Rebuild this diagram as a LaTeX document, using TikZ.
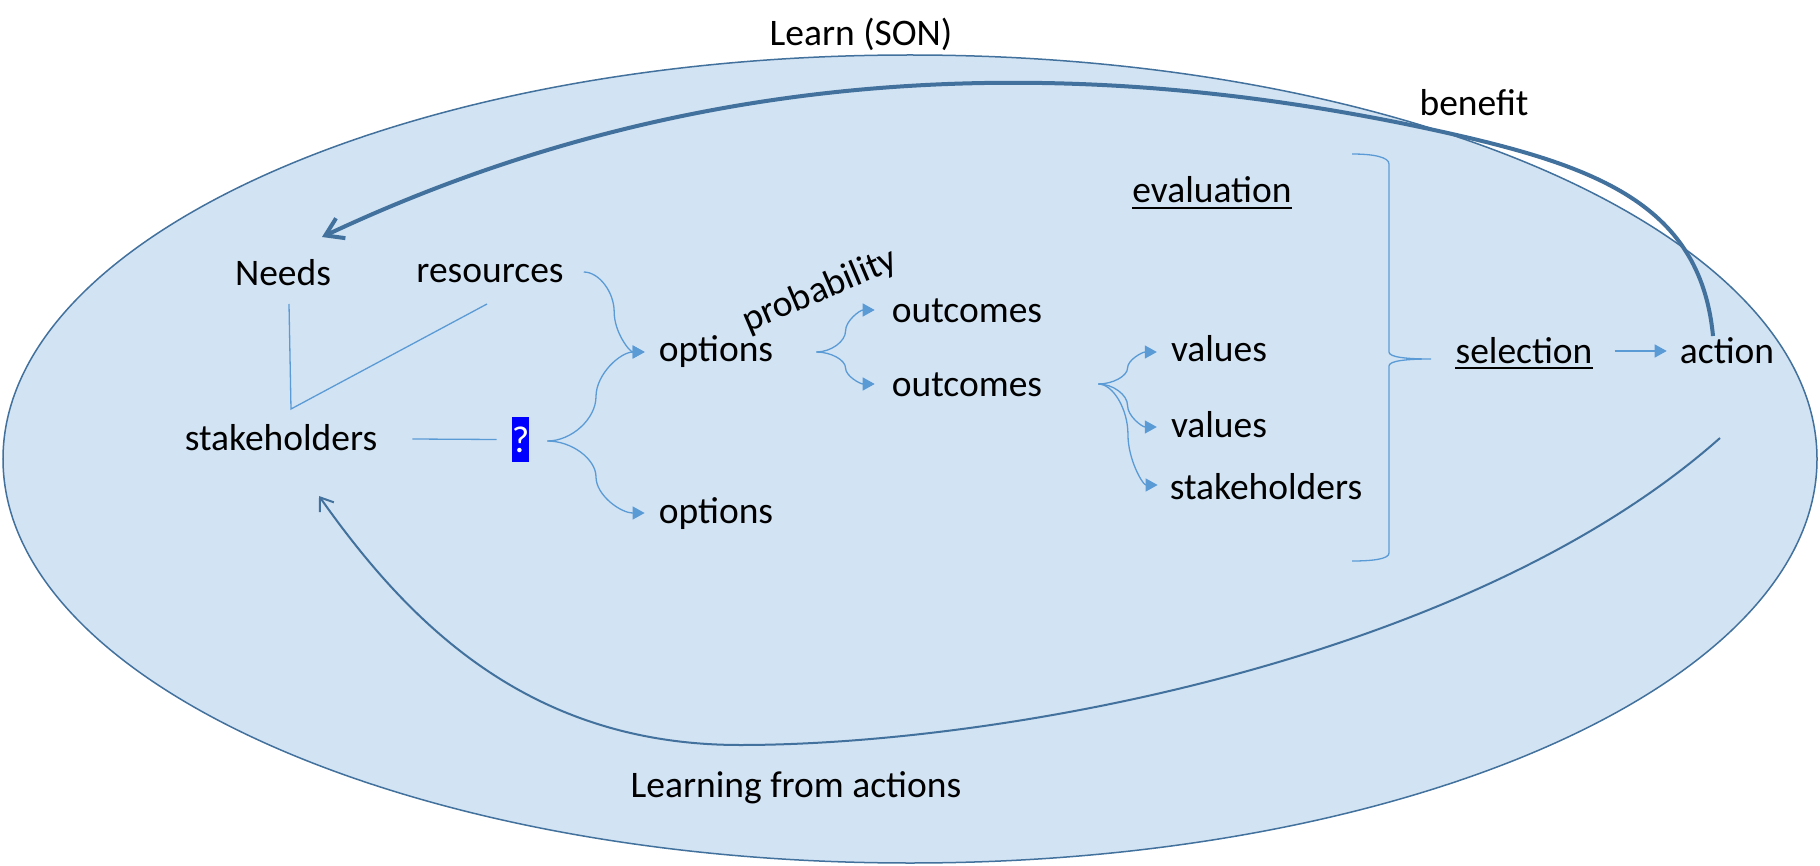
\documentclass[tikz,border=0pt]{standalone}
\usepackage{fontspec}
\setmainfont{Carlito}
\usetikzlibrary{arrows.meta,calc}
\definecolor{ellfill}{RGB}{210,227,243}
\definecolor{ellline}{RGB}{65,113,156}
\definecolor{thinblue}{RGB}{91,155,213}
\definecolor{qblue}{RGB}{0,0,255}
\begin{document}
\begin{tikzpicture}[x=1pt,y=-1pt,
  lbl/.style={inner sep=0pt, anchor=base, font=\fontsize{37.5}{44}\selectfont},
  qbox/.style={fill=qblue, text=white, inner sep=0pt, minimum width=17pt, minimum height=45pt, font=\fontsize{37.5}{44}\selectfont},
  thinline/.style={draw=thinblue, line width=1.3pt},
  thinarrow/.style={thinline, -{Triangle[length=12pt,width=13pt]}},
  thickarrow/.style={draw=ellline, line width=4pt, -{Straight Barb[length=17pt,width=22pt]}},
  looparrow/.style={draw=ellline, line width=2pt, -{Straight Barb[length=12pt,width=17pt]}},
  ulineline/.style={line width=2.5pt, black},
  oconn/.style={to path={let \p1=(\tikztostart), \p2=(\tikztotarget) in
    .. controls ({0.75*\x1+0.25*\x2},\y1) and ({0.5*\x1+0.5*\x2},{0.75*\y1+0.25*\y2})
    .. ({0.5*\x1+0.5*\x2},{0.5*\y1+0.5*\y2})
    .. controls ({0.5*\x1+0.5*\x2},{0.25*\y1+0.75*\y2}) and ({0.25*\x1+0.75*\x2},\y2)
    .. (\p2) \tikztonodes}}
]
\useasboundingbox (0,0) rectangle (1820,866);
\fill[white] (0,0) rectangle (1820,866);
\filldraw[fill=ellfill, draw=ellline, line width=1.5pt] (910,459) ellipse [x radius=907, y radius=404];

% texts
\node[lbl] (learn) at (861,46) {Learn (SON)};
\node[lbl] (benefit) at (1474,116) {benefit};
\node[lbl] (eval) at (1212,203) {evaluation};
\node[lbl] (needs) at (283,286) {Needs};
\node[lbl] (res) at (490,283) {resources};
\node[lbl, anchor=center, rotate=23] (prob) at (820,291) {probability};
\node[lbl] (out1) at (967,323) {outcomes};
\node[lbl] (opt1) at (716,362) {options};
\node[lbl] (val1) at (1219,362) {values};
\node[lbl] (sel) at (1524,363) {selection};
\node[lbl] (act) at (1727,363) {action};
\node[lbl] (out2) at (967,396) {outcomes};
\node[lbl] (stakeL) at (281,450) {stakeholders};
\node[lbl] (val2) at (1219,437) {values};
\node[lbl] (stakeR) at (1266,499) {stakeholders};
\node[lbl] (opt2) at (716,523) {options};
\node[lbl] (learnact) at (796,797) {Learning from actions};
\node[qbox] (q) at (520.5,439.5) {?};

% underlines
\draw[ulineline] ($(eval.base west)+(0,5)$) -- ($(eval.base east)+(0,5)$);
\draw[ulineline] ($(sel.base west)+(0,5)$) -- ($(sel.base east)+(0,5)$);

% needs / stakeholders / resources lines
\coordinate (nv1) at ($(needs.base)+(6,18)$);
\coordinate (nv2) at ($(stakeL.base)+(10,-41)$);
\coordinate (nv3) at ($(res.base)+(-3,21)$);
\draw[thinline] (nv1) -- (nv2) -- (nv3);

\coordinate (sq1) at ($(stakeL.base east)+(35,-11)$);
\coordinate (sq2) at ($(q.west)+(-15,0)$);
\draw[thinline] (sq1) -- (sq2);

% into options
\coordinate (qo) at ($(q.east)+(18,1.5)$);
\coordinate (ro) at ($(res.base east)+(20,-11)$);
\coordinate (o1i) at ($(opt1.base west)+(-14,-10)$);
\coordinate (o2i) at ($(opt2.base west)+(-14,-10)$);
\draw[thinarrow] (ro) to[oconn] (o1i);
\draw[thinarrow] (qo) to[oconn] (o1i);
\draw[thinarrow] (qo) to[oconn] (o2i);

% options -> outcomes
\coordinate (o1o) at ($(opt1.base east)+(43,-10)$);
\coordinate (u1i) at ($(out1.base west)+(-17,-13)$);
\coordinate (u2i) at ($(out2.base west)+(-17,-12)$);
\draw[thinarrow] (o1o) to[oconn] (u1i);
\draw[thinarrow] (o1o) to[oconn] (u2i);

% outcomes -> values / stakeholders
\coordinate (u2o) at ($(out2.base east)+(56,-12)$);
\coordinate (v1i) at ($(val1.base west)+(-14,-10)$);
\coordinate (v2i) at ($(val2.base west)+(-14,-10)$);
\coordinate (s2i) at ($(stakeR.base west)+(-12,-14)$);
\draw[thinarrow] (u2o) to[oconn] (v1i);
\draw[thinarrow] (u2o) to[oconn] (v2i);
\draw[thinarrow] (u2o) to[oconn] (s2i);

% brace
\draw[thinline] (1352,154) .. controls (1373,154) and (1389,157) .. (1389,164)
  -- (1389,352) .. controls (1389,357) and (1405,359) .. (1431,359)
  .. controls (1405,359) and (1389,361) .. (1389,366)
  -- (1389,553) .. controls (1389,559) and (1373,561) .. (1352,561);

% selection -> action
\coordinate (sa1) at ($(sel.base east)+(22,-12)$);
\coordinate (sa2) at ($(act.base west)+(-13,-12)$);
\draw[thinarrow] (sa1) -- (sa2);

% benefit arrow
\coordinate (ta) at ($(act.base)+(-14,-27)$);
\coordinate (tn) at ($(needs.base)+(39,-49)$);
\draw[thickarrow] (ta) .. controls (1700,200) and (1590,163) .. (1420,127)
  .. controls (1100,60) and (720,50) .. (tn);

% learning from actions arrow
\coordinate (ba) at ($(act.base)+(-7,75)$);
\coordinate (bs) at ($(stakeL.base)+(38,46)$);
\draw[looparrow] (ba) .. controls (1470,660) and (1000,745) .. (740,745)
  .. controls (530,745) and (410,625) .. (bs);
\end{tikzpicture}
\end{document}
